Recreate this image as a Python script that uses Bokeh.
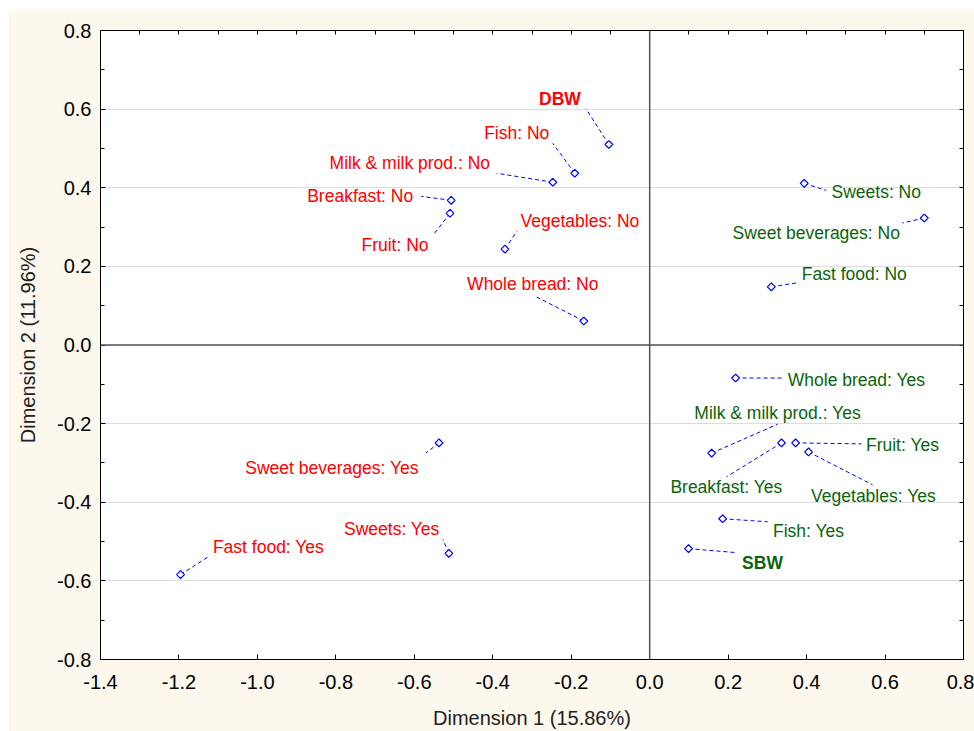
import numpy as np
from bokeh.plotting import figure
from bokeh.models import ColumnDataSource, FixedTicker, LinearAxis, Span, Range1d
from bokeh.core.properties import value
from bokeh.embed import file_html
from bokeh.resources import INLINE

# ---------------- data ----------------
labels = ["DBW", "Fish: No", "Milk & milk prod.: No", "Breakfast: No", "Fruit: No",
          "Vegetables: No", "Whole bread: No", "Sweets: Yes", "Sweet beverages: Yes",
          "Fast food: Yes", "Sweets: No", "Sweet beverages: No", "Fast food: No",
          "Whole bread: Yes", "Milk & milk prod.: Yes", "Breakfast: Yes", "Fruit: Yes",
          "Vegetables: Yes", "Fish: Yes", "SBW"]
dim1 = [-0.104, -0.191, -0.247, -0.506, -0.509, -0.369, -0.168, -0.512, -0.537, -1.196,
        0.394, 0.700, 0.310, 0.219, 0.158, 0.336, 0.372, 0.405, 0.186, 0.099]
dim2 = [0.510, 0.437, 0.414, 0.368, 0.335, 0.244, 0.061, -0.530, -0.249, -0.584,
        0.411, 0.323, 0.148, -0.084, -0.275, -0.249, -0.249, -0.272, -0.442, -0.518]
group = ["DBW"] * 10 + ["SBW"] * 10
x_ticks = [-1.4, -1.2, -1.0, -0.8, -0.6, -0.4, -0.2, 0.0, 0.2, 0.4, 0.6, 0.8]
x_tick_labels = ["-1.4", "-1.2", "-1.0", "-0.8", "-0.6", "-0.4", "-0.2", "0.0", "0.2", "0.4", "0.6", "0.8"]
y_ticks = [-0.8, -0.6, -0.4, -0.2, 0.0, 0.2, 0.4, 0.6, 0.8]
y_tick_labels = ["-0.8", "-0.6", "-0.4", "-0.2", "0.0", "0.2", "0.4", "0.6", "0.8"]
x_title = "Dimension 1 (15.86%)"
y_title = "Dimension 2 (11.96%)"

# ---------------- layout (label placement in screen px) ----------------
label_dx = [-49, -58, -143, -91, -55, 75, -51, -57, -107, 88,
            72, -108, 83, 121, 66, -55, 107, 65, 86, 74]
label_dy = [-46, -40, -19, -4, 32, -28, -37, -24, 25, -28,
            9, 15, -13, 2, -40, 44, 2, 44, 12, 14]
lead_dx = [-23, -22, -56, -30, -17, 12, -47, -6, -13, 28,
           22, -22, 26, 47, 66, -55, 66, 64, 45, 48]
lead_dy = [-36, -30, -9, -4, 22, -18, -24, -14, 10, -18,
           7, 5, -4, 0, -29, 34, 1, 33, 3, 4]

XMIN, XMAX, YMIN, YMAX = -1.4, 0.8, -0.8, 0.8
W, H = 966, 721
BL, BR, BT, BB = 92, 11, 20, 70
FW, FH = W - BL - BR, H - BT - BB
sx = FW / (XMAX - XMIN)
sy = FH / (YMAX - YMIN)

RED = "#FF0000"
GREEN = "#0B640B"
colors = [RED if g == "DBW" else GREEN for g in group]
bold = [lab in ("DBW", "SBW") for lab in labels]

x1 = [x + dx / sx for x, dx in zip(dim1, lead_dx)]
y1 = [y - dy / sy for y, dy in zip(dim2, lead_dy)]

FONT = "Liberation Sans"

p = figure(width=W, height=H, output_backend="svg", toolbar_location=None,
           x_range=Range1d(XMIN, XMAX), y_range=Range1d(YMIN, YMAX),
           min_border_left=BL, min_border_right=BR, min_border_top=BT, min_border_bottom=BB,
           background_fill_color="white", border_fill_color="#FCF8EE",
           margin=(10, 0, 0, 8))
p.outline_line_color = "black"
p.outline_line_width = 1

# grid
p.xgrid.visible = False
p.ygrid.ticker = FixedTicker(ticks=y_ticks)
p.ygrid.grid_line_color = "#DDDDDD"
p.ygrid.grid_line_width = 1

# axes
minor_x = [round(-1.4 + 0.1 * i, 2) for i in range(23)]
minor_y = [round(-0.8 + 0.1 * i, 2) for i in range(17)]

xa = p.xaxis[0]
xa.ticker = FixedTicker(ticks=x_ticks, minor_ticks=[])
xa.major_label_overrides = {t: l for t, l in zip(x_ticks, x_tick_labels)}
ya = p.yaxis[0]
ya.ticker = FixedTicker(ticks=y_ticks, minor_ticks=minor_y)
ya.major_label_overrides = {t: l for t, l in zip(y_ticks, y_tick_labels)}

for ax in (xa, ya):
    ax.axis_line_color = "black"
    ax.major_tick_line_color = "black"
    ax.minor_tick_line_color = "black"
    ax.major_tick_in = 5
    ax.major_tick_out = 0
    ax.minor_tick_in = 4
    ax.minor_tick_out = 0
    ax.major_label_text_font = FONT
    ax.major_label_text_font_size = "20px"
    ax.major_label_text_color = "black"
    ax.axis_label_text_font = FONT
    ax.axis_label_text_font_size = "20px"
    ax.axis_label_text_font_style = "normal"
    ax.axis_label_text_color = "#222222"
    ax.major_label_standoff = 9

xa.major_label_standoff = 15
xa.axis_label_standoff = 15
ya.axis_label_standoff = 15
xa.axis_label = x_title
ya.axis_label = y_title

top = LinearAxis(ticker=FixedTicker(ticks=minor_x, minor_ticks=[]),
                 major_label_overrides={t: "" for t in minor_x})
right = LinearAxis(ticker=FixedTicker(ticks=minor_y, minor_ticks=[]),
                   major_label_overrides={t: "" for t in minor_y})
for ax in (top, right):
    ax.major_tick_in = 4
    ax.major_tick_out = 0
    ax.axis_line_color = "black"
    ax.major_tick_line_color = "black"
    ax.major_label_text_font_size = "1px"
    ax.major_label_standoff = 0
p.add_layout(top, "above")
p.add_layout(right, "right")

# zero lines
p.add_layout(Span(location=0, dimension="height", line_color="#555555", line_width=1.5))
p.add_layout(Span(location=0, dimension="width", line_color="#555555", line_width=1.5))

src = ColumnDataSource(dict(x=dim1, y=dim2, x1=x1, y1=y1, text=labels, color=colors,
                            dx=label_dx, dy=label_dy))
p.segment(x0="x", y0="y", x1="x1", y1="y1", source=src, line_color="#0000FF",
          line_width=1, line_dash="4 3")
p.scatter(x="x", y="y", source=src, marker="square", angle=np.pi / 4, size=5.5,
          line_color="#0000FF", fill_color="white", line_width=1.2)

idx_n = [i for i, b in enumerate(bold) if not b]
idx_b = [i for i, b in enumerate(bold) if b]
for idx, style in ((idx_n, "normal"), (idx_b, "bold")):
    s = ColumnDataSource(dict(x=[dim1[i] for i in idx], y=[dim2[i] for i in idx],
                              text=[labels[i] for i in idx], color=[colors[i] for i in idx],
                              dx=[label_dx[i] for i in idx], dy=[label_dy[i] for i in idx]))
    p.text(x="x", y="y", text="text", source=s, x_offset="dx", y_offset="dy",
           text_color="color", text_align="center", text_baseline="middle",
           text_font=value(FONT), text_font_size="17.5px", text_font_style=style)

open("out.html", "w").write(file_html(p, INLINE))
